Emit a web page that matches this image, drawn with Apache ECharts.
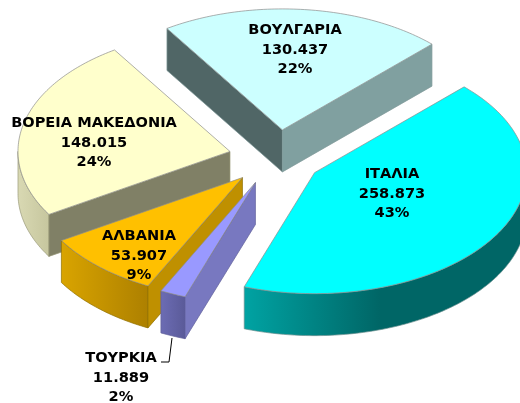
<!DOCTYPE html>
<html><head><meta charset="utf-8">
<style>html,body{margin:0;padding:0;background:#fff}#c{width:520px;height:403px}</style>
<script src="https://cdn.jsdelivr.net/npm/echarts@6/dist/echarts.min.js"></script>
</head><body><div id="c"></div>
<script>
// Data, clockwise from the back of the pie
const categories = ['ΒΟΥΛΓΑΡΙΑ','ΙΤΑΛΙΑ','ΤΟΥΡΚΙΑ','ΑΛΒΑΝΙΑ','ΒΟΡΕΙΑ ΜΑΚΕΔΟΝΙΑ'];
const values = [130437,258873,11889,53907,148015];
const valueLabels = ['130.437','258.873','11.889','53.907','148.015'];
const percentLabels = ['22%','43%','2%','9%','24%'];

// Styles
const topColors  = ['#ccffff','#00ffff','#9999ff','#ffc000','#ffffcc'];
const startWall  = ['#506666','#008080','#7878c0','#bf9000','#808066'];
const endWall    = ['#80a0a0','#006666','#5c5c99','#a87c00','#a0a080'];
const rimStops   = [
  [[0,'#80a0a0'],[1,'#80a0a0']],
  [[0,'#00a3a3'],[0.48,'#006666'],[1,'#006666']],
  [[0,'#6c6cb4'],[1,'#5a5a98']],
  [[0,'#d9a400'],[1,'#ad8000']],
  [[0,'#d9d9b3'],[1,'#c6c69e']]
];
const edgeColors = ['#7f9999','#6b8f8f','#5f5f99','#8f7000','#99997a'];

// Layout
const startDeg = 123, rx = 212, ry = 121, depth = 42;
const cx = 276.5, cy = 157.5;
const explode = [0.225,0.212,0.225,0.22,0.225];
const nudgeX = [1,0,-2.5,-2.5,0];
const nudgeY = [-0.5,1.5,0,0.5,0];
const drawOrder = [0,4,1,3,2];
const labelPos = [[295,50],[392,194],[121,378],[139,256],[94,143]];
const leader = [[172,338],[169,362],[161,362]];
const labelFont = 'bold 14.6px "DejaVu Sans"';

const total = values.reduce((a,b)=>a+b,0);
const rad = d => d*Math.PI/180;
const spans = []; let acc = startDeg;
values.forEach(v=>{const s=acc; acc-=v/total*360; spans.push([s,acc]);});

function renderItem(params, api){
  const i = api.value(0);
  const [s,e] = spans[i];
  const mid = rad((s+e)/2);
  const ax = cx + nudgeX[i] + explode[i]*rx*Math.cos(mid), ay = cy + nudgeY[i] - explode[i]*ry*Math.sin(mid);
  const pt = (deg,dz=0)=>[ax+rx*Math.cos(rad(deg)), ay-ry*Math.sin(rad(deg))+dz];
  const arc = (a,b,dz=0)=>{const n=Math.max(2,Math.ceil(Math.abs(a-b)));const r=[];
    for(let k=0;k<=n;k++) r.push(pt(a+(b-a)*k/n,dz)); return r;};
  const kids = [];
  const z = drawOrder.indexOf(i)*10;
  const poly = (points,fill,stroke,off)=>kids.push({type:'polygon',z2:z+off,shape:{points},
    style:{fill,stroke,lineWidth:0.7}});
  // outer rim: the part of the arc that faces the viewer
  const from = Math.min(s,0), to = Math.max(e,-180);
  if (from > to) {
    const grad = new echarts.graphic.LinearGradient(0,0,1,0,
      rimStops[i].map(x=>({offset:x[0],color:x[1]})));
    poly(arc(from,to).concat(arc(to,from,depth)),grad,edgeColors[i],1);
  }
  const wall = (deg,col)=>poly([[ax,ay],pt(deg),pt(deg,depth),[ax,ay+depth]],col,edgeColors[i],2);
  if (Math.cos(rad(s))<0) wall(s,startWall[i]);
  if (Math.cos(rad(e))>0) wall(e,endWall[i]);
  // top face
  poly([[ax,ay]].concat(arc(s,e)),topColors[i],'#8c8c8c',3);
  // label
  kids.push({type:'text',z2:200,x:labelPos[i][0],y:labelPos[i][1],
    style:{text:[categories[i],valueLabels[i],percentLabels[i]].join('\n'),
      font:labelFont,lineHeight:19.5,fill:'#000',align:'center',verticalAlign:'middle'}});
  if (i===2) kids.push({type:'polyline',z2:200,shape:{points:leader},style:{stroke:'#000',lineWidth:1,fill:null}});
  return {type:'group',children:kids};
}

const chart = echarts.init(document.getElementById('c'),null,{renderer:'canvas'});
chart.setOption({
  animation:false,
  backgroundColor:'#fff',
  series:[{type:'custom',coordinateSystem:'none',renderItem,silent:true,
    data:drawOrder.map(i=>[i])}]
});
</script></body></html>
